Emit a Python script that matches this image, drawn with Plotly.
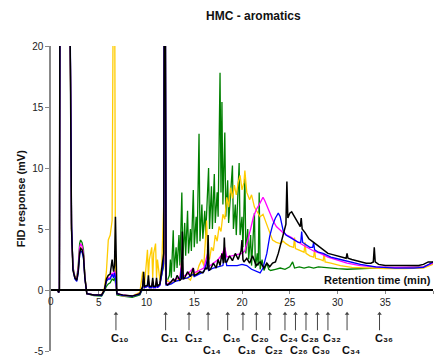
import plotly.graph_objects as go

# ---------------- data (retention time in min, FID response in mV) ----------------
t_early = [0.0, 0.7, 0.8, 0.88, 0.95, 1.9, 2.05, 2.15, 2.3, 2.5, 2.7, 2.85, 3.0, 3.1, 3.25,
           3.4, 3.55, 3.75, 4.5, 5.3, 5.6, 5.8, 6.0, 6.2, 6.4, 6.55, 6.65, 6.75, 6.9, 7.5,
           8.5, 9.3, 9.6, 9.7, 9.8, 10.1, 10.2, 10.3, 10.55, 10.65, 10.75, 10.95, 11.05, 11.15,
           11.4, 11.6, 11.8, 11.88, 11.95, 12.05]

black_early = [0, 0, -0.2, 0, 30, 30, 16, 5, 1.6, 1.0, 0.8, 1.5, 3.0, 3.4, 3.3,
               2.8, 1.0, -0.3, -0.4, -0.4, 0.0, 0.9, 1.2, 1.3, 2.5, 1.5, 2.0, 6.0, -0.3, -0.4,
               -0.5, -0.3, 0.3, 1.5, 0.3, 0.4, 1.2, 0.3, 0.3, 1.0, 0.3, 0.3, 1.0, 0.3,
               0.5, 2.0, 3.0, 30, 30, 0.5]
magenta_early = [0, 0, -0.2, 0, 30, 30, 17, 5, 1.8, 1.0, 0.9, 1.8, 3.5, 3.8, 3.6,
                 3.0, 1.0, -0.3, -0.4, -0.4, 0.0, 0.8, 1.0, 1.0, 1.4, 1.2, 1.6, 1.2, -0.3, -0.4,
                 -0.5, -0.3, 0.2, 1.0, 0.2, 0.3, 0.8, 0.2, 0.2, 0.7, 0.2, 0.2, 0.7, 0.2,
                 0.4, 1.5, 2.5, 30, 30, 0.5]
blue_early = [0, 0, -0.2, 0, 30, 30, 18, 5.5, 1.7, 0.9, 0.7, 1.4, 2.9, 3.2, 3.1,
              2.6, 0.9, -0.3, -0.4, -0.45, 0.0, 0.7, 0.9, 0.9, 1.3, 1.0, 1.4, 1.0, -0.3, -0.45,
              -0.5, -0.35, 0.2, 0.9, 0.2, 0.3, 0.7, 0.2, 0.2, 0.6, 0.2, 0.2, 0.6, 0.2,
              0.4, 1.3, 2.2, 30, 30, 0.4]
green_early = [0, 0, -0.2, 0, 30, 30, 17, 5, 1.9, 1.1, 1.0, 2.0, 3.8, 4.1, 3.9,
               3.3, 1.1, -0.3, -0.45, -0.5, -0.1, 0.3, 0.5, 0.6, 0.9, 0.8, 1.0, 0.6, -0.4, -0.5,
               -0.6, -0.4, 0.1, 0.8, 0.2, 0.3, 0.6, 0.2, 0.2, 0.6, 0.2, 0.3, 0.6, 0.3,
               0.5, 1.2, 2.0, 30, 30, 0.6]
yellow_early = [0, 0, -0.2, 0, 30, 30, 17, 5, 1.8, 1.0, 0.9, 1.7, 3.2, 3.5, 3.4,
                2.9, 1.0, -0.3, -0.4, -0.4, 0.2, 1.5, 4.1, 4.5, 5.7, 30, 30, 1.0, -0.3, -0.5,
                -0.5, -0.2, 1.5, 0.8, 0.5, 3.3, 1.0, 2.5, 3.5, 1.0, 3.0, 3.8, 1.0, 2.5,
                0.8, 2.0, 7.0, 3.0, 1.5, 0.8]

green_t = [12.2, 12.4, 12.5, 12.6, 12.8, 12.9, 13.1, 13.2, 13.4, 13.5, 13.7, 13.8, 14.0, 14.1,
           14.3, 14.4, 14.6, 14.7, 14.9, 15.0, 15.2, 15.3, 15.5, 15.6, 15.8, 15.9, 16.1, 16.2,
           16.5, 16.6, 16.8, 16.9, 17.1, 17.2, 17.4, 17.5, 17.7, 17.8, 17.9, 18.0, 18.2, 18.3,
           18.5, 18.6, 18.8, 19.0, 19.1, 19.3, 19.4, 19.7, 19.8, 20.0, 20.1, 20.3, 20.4, 20.6,
           20.7, 20.9, 21.0, 21.3, 21.4, 21.6, 21.7, 21.8, 21.9, 22.1, 22.3, 22.6, 22.8, 23.0,
           23.5, 24.0, 24.5, 25.0, 25.3, 25.5, 26.0, 26.5, 27.0, 27.5, 28.0, 29.0, 30.0, 31.0,
           32.0, 34.0, 36.0, 38.0, 39.0, 40.0]
green_y = [0.8, 1.2, 2.5, 1.0, 4.9, 1.5, 3.5, 1.8, 4.5, 2.0, 8.0, 2.5, 5.5, 2.8,
           6.5, 3.0, 5.0, 3.2, 8.2, 3.5, 6.0, 3.8, 12.8, 4.0, 7.0, 4.2, 6.5, 4.5,
           10.0, 5.0, 8.5, 5.0, 9.5, 5.5, 8.0, 6.0, 17.8, 8.0, 15.4, 7.0, 12.9, 6.0,
           9.0, 5.5, 7.5, 10.2, 5.0, 7.0, 4.5, 10.4, 4.5, 6.0, 3.5, 9.4, 3.0, 5.0,
           2.5, 4.5, 2.0, 6.3, 1.8, 3.0, 2.0, 8.0, 1.7, 2.5, 1.6, 2.2, 1.7, 1.6,
           1.7, 1.8, 1.7, 1.9, 2.3, 1.8, 1.9, 1.8, 1.9, 1.8, 1.9, 1.8, 1.75, 1.7,
           1.75, 1.8, 1.8, 1.85, 1.9, 2.2]

yellow_t = [12.2, 12.5, 13.0, 13.5, 13.7, 13.8, 14.3, 14.6, 14.9, 15.2, 15.5, 15.8, 16.0, 16.3,
            16.4, 16.6, 16.8, 17.0, 17.2, 17.4, 17.6, 17.8, 18.0, 18.2, 18.4, 18.6, 18.8, 19.0,
            19.2, 19.4, 19.6, 19.8, 20.0, 20.2, 20.3, 20.5, 20.8, 21.0, 21.3, 21.7, 21.9, 22.2,
            22.5, 22.7, 23.0, 23.2, 23.6, 24.0, 24.3, 24.6, 25.0, 25.4, 25.5, 25.6, 26.1, 26.5,
            26.6, 26.7, 27.1, 27.5, 27.6, 27.7, 28.2, 28.5, 28.6, 28.7, 29.3, 30.3, 31.5, 33.0,
            35.0, 37.0, 39.0, 40.0]
yellow_y = [0.8, 0.6, 0.7, 0.9, 2.5, 0.9, 1.0, 0.8, 1.5, 1.2, 2.0, 2.5, 2.0, 5.7,
            2.8, 2.5, 3.5, 3.2, 4.5, 4.0, 5.2, 4.8, 6.2, 5.8, 7.6, 6.8, 8.4, 7.5,
            8.6, 7.8, 8.8, 9.4, 8.2, 8.8, 9.8, 8.0, 7.4, 7.8, 6.8, 6.3, 6.0, 6.2,
            5.5, 5.2, 4.5, 4.1, 3.9, 3.8, 4.0, 3.8, 3.6, 3.5, 4.3, 3.4, 3.2, 3.1,
            3.9, 3.0, 2.8, 2.7, 3.3, 2.6, 2.5, 2.4, 3.0, 2.3, 2.2, 2.0, 1.85, 1.8,
            1.75, 1.75, 1.8, 2.1]

magenta_t = [12.2, 12.6, 13.0, 13.5, 13.7, 13.8, 14.3, 14.9, 15.0, 15.5, 16.0, 16.4, 16.5, 17.0,
             17.5, 17.9, 18.2, 18.4, 19.0, 19.5, 20.0, 20.3, 20.6, 20.9, 21.2, 21.5, 21.8, 22.0,
             22.2, 22.4, 22.7, 23.0, 23.3, 23.6, 24.0, 24.3, 24.7, 25.2, 25.7, 26.2, 26.8, 27.5,
             28.2, 29.0, 29.9, 31.0, 32.4, 34.0, 36.0, 38.0, 39.0, 40.0]
magenta_y = [0.5, 0.7, 0.9, 1.0, 2.5, 1.1, 1.3, 1.8, 1.4, 1.6, 1.8, 3.0, 1.9, 2.2,
             2.5, 2.9, 3.5, 2.7, 2.8, 2.9, 3.0, 3.2, 4.0, 5.0, 6.0, 6.6, 7.0, 7.3,
             7.6, 7.3, 6.7, 6.1, 5.6, 5.2, 4.9, 4.7, 4.5, 4.3, 4.0, 3.8, 3.5, 3.2,
             3.0, 2.7, 2.5, 2.2, 2.0, 1.9, 1.85, 1.85, 1.9, 2.2]

blue_t = [12.2, 12.6, 13.0, 13.5, 13.7, 13.8, 14.3, 14.9, 15.0, 15.5, 16.0, 16.4, 16.5, 17.0,
          17.5, 18.0, 18.2, 18.4, 19.0, 19.5, 20.0, 20.5, 21.0, 21.5, 21.9, 22.2, 22.6, 22.9,
          23.2, 23.5, 23.8, 24.0, 24.3, 24.6, 25.0, 25.5, 25.9, 26.15, 26.25, 26.35, 26.7, 27.1,
          27.4, 27.5, 27.6, 28.0, 28.5, 29.3, 30.3, 31.3, 32.4, 34.0, 36.0, 38.0, 39.0, 40.0]
blue_y = [0.4, 0.5, 0.7, 0.8, 2.0, 0.9, 1.0, 1.3, 1.1, 1.3, 1.5, 2.5, 1.6, 1.8,
          1.9, 2.0, 3.0, 2.0, 2.0, 2.0, 2.1, 2.0, 1.7, 1.5, 1.4, 1.8, 3.0, 4.4,
          5.3, 5.9, 6.3, 6.0, 4.9, 4.5, 4.3, 4.1, 3.9, 3.9, 4.8, 3.9, 3.7, 3.5,
          3.5, 3.9, 3.3, 3.1, 3.0, 2.7, 2.5, 2.3, 2.1, 1.9, 1.8, 1.8, 1.85, 2.3]

black_t = [12.2, 12.5, 12.8, 13.0, 13.2, 13.5, 13.65, 13.75, 13.85, 14.0, 14.3, 14.6, 14.9, 15.0,
           15.3, 15.6, 15.9, 16.2, 16.35, 16.45, 16.55, 16.7, 17.0, 17.3, 17.5, 17.7, 17.9, 18.05,
           18.15, 18.25, 18.4, 18.7, 19.0, 19.3, 19.6, 19.9, 20.0, 20.1, 20.2, 20.5, 20.8, 21.1,
           21.5, 21.9, 22.3, 22.6, 22.9, 23.2, 23.5, 23.8, 24.1, 24.4, 24.6, 24.7, 24.8, 25.0,
           25.2, 25.5, 25.8, 26.1, 26.2, 26.3, 26.6, 27.0, 27.5, 28.0, 28.5, 29.0, 29.5, 30.0,
           30.5, 30.9, 31.0, 31.1, 31.5, 32.0, 32.5, 33.0, 33.5, 33.75, 33.85, 33.95, 34.3, 35.0,
           36.0, 37.0, 38.0, 38.5, 39.0, 39.5, 40.0]
black_y = [0.4, 0.6, 0.9, 0.7, 1.2, 0.8, 0.9, 4.8, 0.9, 1.0, 1.5, 1.1, 1.8, 1.2,
           1.3, 1.5, 1.4, 1.8, 1.7, 4.5, 1.6, 1.7, 2.2, 1.8, 2.5, 2.0, 3.0, 2.2,
           4.3, 2.3, 2.3, 2.8, 2.4, 3.0, 2.5, 3.2, 4.1, 2.5, 2.3, 2.6, 2.2, 2.8,
           2.0, 2.3, 1.8, 2.2, 1.9, 2.2, 2.3, 3.0, 3.8, 4.8, 5.4, 8.9, 5.9, 6.3,
           6.4, 6.0, 5.6, 5.2, 5.9, 5.0, 4.7, 4.2, 3.9, 3.6, 3.3, 3.0, 2.9, 2.8,
           2.7, 2.6, 3.0, 2.6, 2.5, 2.4, 2.3, 2.2, 2.2, 2.3, 3.5, 2.3, 2.1, 2.0,
           2.0, 2.0, 2.0, 2.0, 2.1, 2.3, 2.3]

# n-alkane markers (labels use Unicode subscript digits)
c_labels = ["C₁₀", "C₁₁", "C₁₂", "C₁₄", "C₁₆", "C₁₈", "C₂₀", "C₂₂", "C₂₄", "C₂₆", "C₂₈",
            "C₃₀", "C₃₂", "C₃₄", "C₃₆"]
c_times = [6.8, 12.0, 14.45, 16.45, 18.5, 20.1, 21.5, 22.9, 24.5, 25.6, 26.7, 27.9, 29.0, 31.0, 34.4]
c_rows = [1, 1, 1, 2, 1, 2, 1, 2, 1, 2, 1, 2, 1, 2, 1]

x_ticks = [0, 5, 10, 15, 20, 25, 30, 35, 40]
y_ticks = [-5, 0, 5, 10, 15, 20]
y_ticktext = ["-5", "0", "5", "10", "15", "20"]

FONT = "Arial, 'Liberation Sans', 'DejaVu Sans', sans-serif"
ARROW_TAIL, ARROW_HEAD = -3.3, -1.95
ROW_Y = {1: -3.95, 2: -4.9}

series = [
    ("green", green_early, green_t, green_y, "#008000", 1.3),
    ("gold", yellow_early, yellow_t, yellow_y, "#FFCC00", 1.3),
    ("magenta", magenta_early, magenta_t, magenta_y, "#FF00FF", 1.3),
    ("blue", blue_early, blue_t, blue_y, "#0000FF", 1.3),
    ("black", black_early, black_t, black_y, "#000000", 1.5),
]

fig = go.Figure()
for name, ye, tl, yl, col, w in series:
    fig.add_trace(go.Scatter(x=t_early + tl, y=ye + yl, mode="lines", name=name,
                             line=dict(color=col, width=w), showlegend=False,
                             hoverinfo="skip"))

# arrow heads for the n-alkane markers
fig.add_trace(go.Scatter(x=c_times, y=[ARROW_HEAD] * len(c_times), mode="markers",
                         marker=dict(symbol="triangle-up", size=4, color="#444"),
                         showlegend=False, hoverinfo="skip", cliponaxis=False))

shapes = [dict(type="line", xref="x", yref="y", x0=tc, x1=tc, y0=ARROW_TAIL, y1=ARROW_HEAD,
               line=dict(color="#444", width=1)) for tc in c_times]

annotations = []
for lab, tc, row in zip(c_labels, c_times, c_rows):
    annotations.append(dict(x=tc, y=ROW_Y[row], xref="x", yref="y",
                            text=lab, showarrow=False,
                            xanchor="center", yanchor="middle", xshift=4,
                            font=dict(family=FONT, size=11, color="#111", weight="bold")))

# tick label "0" at the axis crossing (Plotly hides it where the axes meet)
annotations.append(dict(x=0, y=0, xref="x", yref="y", text="0", showarrow=False,
                        xanchor="center", yanchor="top", yshift=-4,
                        font=dict(family=FONT, size=10, color="#222")))

annotations.append(dict(x=0.529, y=1.097, xref="paper", yref="paper",
                        text="HMC - aromatics", showarrow=False,
                        xanchor="center", yanchor="middle",
                        font=dict(family=FONT, size=12, color="#111", weight="bold")))
annotations.append(dict(x=-0.079, y=0.5, xref="paper", yref="paper",
                        text="FID response (mV)", showarrow=False, textangle=-90,
                        xanchor="center", yanchor="middle",
                        font=dict(family=FONT, size=11, color="#111", weight="bold")))
annotations.append(dict(x=40, y=0.85, xref="x", yref="y",
                        text="Retention time (min)", showarrow=False,
                        xanchor="right", yanchor="middle",
                        font=dict(family=FONT, size=11, color="#111", weight="bold")))

fig.update_layout(
    width=438, height=359,
    margin=dict(l=51, r=5, t=46, b=8, autoexpand=False),
    paper_bgcolor="white", plot_bgcolor="white",
    font=dict(family=FONT, size=10, color="#222"),
    xaxis=dict(range=[0, 40], tickvals=x_ticks[1:], showgrid=False, zeroline=False,
               showline=True, linecolor="#000", linewidth=1.5,
               ticks="outside", ticklen=3, tickcolor="#888", tickwidth=1,
               anchor="free", position=0.2, automargin=False,
               tickfont=dict(family=FONT, size=10, color="#222")),
    yaxis=dict(range=[-5, 20], tickvals=y_ticks, ticktext=y_ticktext,
               showgrid=False, zeroline=False, showline=True,
               linecolor="#888", linewidth=1.5, ticks="outside", ticklen=4,
               tickcolor="#888", tickwidth=1, automargin=False,
               tickfont=dict(family=FONT, size=10, color="#222")),
    shapes=shapes,
    annotations=annotations,
)

fig.write_html("out.html")
